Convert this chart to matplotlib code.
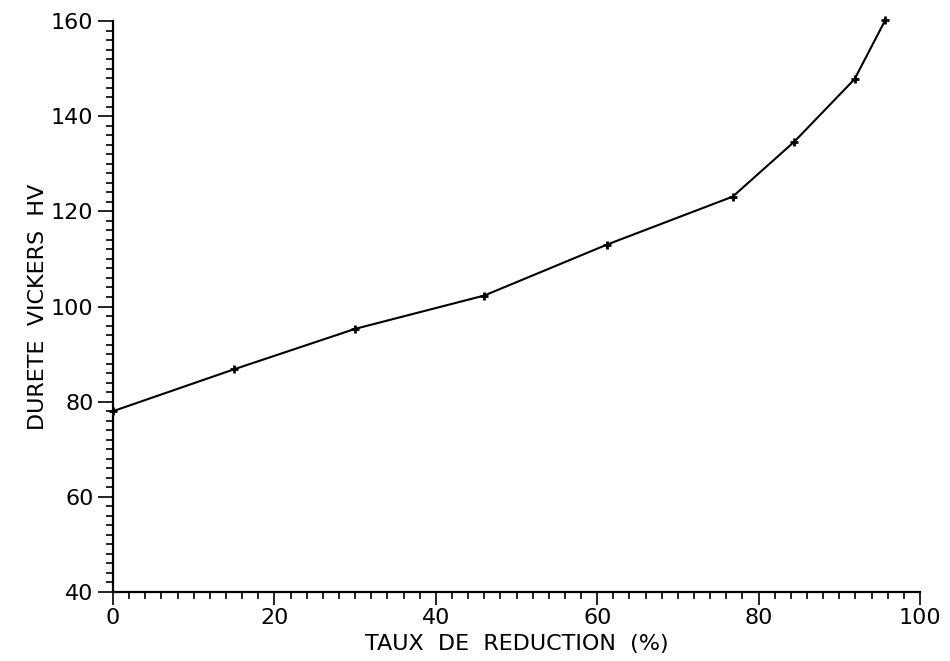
import matplotlib
matplotlib.use("Agg")
import matplotlib.pyplot as plt
from matplotlib.ticker import MultipleLocator

# Data
reduction = [0, 15, 30, 46, 61.2, 76.8, 84.4, 91.9, 95.7]
hardness = [78.0, 86.8, 95.3, 102.3, 113.0, 123.1, 134.6, 147.8, 160.2]

x_ticks = [0, 20, 40, 60, 80, 100]
y_ticks = [40, 60, 80, 100, 120, 140, 160]

plt.rcParams['font.family'] = ['DejaVu Sans']

fig = plt.figure(figsize=(9.5, 6.61), dpi=100)
ax = fig.add_axes([113/950, 1 - 592/661, (920 - 113)/950, (592 - 21)/661])

ax.plot(reduction, hardness, color='black', lw=1.5, marker='+', ms=6, mew=2,
        clip_on=False)

ax.set_xlim(0, 100)
ax.set_ylim(40, 160)
ax.set_xticks(x_ticks)
ax.set_yticks(y_ticks)
ax.xaxis.set_minor_locator(MultipleLocator(2))
ax.yaxis.set_minor_locator(MultipleLocator(2))

for s in ['top', 'right']:
    ax.spines[s].set_visible(False)
for s in ['left', 'bottom']:
    ax.spines[s].set_linewidth(1.6)

ax.tick_params(axis='x', which='major', direction='out', length=9.5, width=1.2, pad=2, labelsize=16)
ax.tick_params(axis='x', which='minor', direction='out', length=5, width=1.2)
ax.tick_params(axis='y', which='major', direction='out', length=11, width=1.2, pad=3, labelsize=16)
ax.tick_params(axis='y', which='minor', direction='out', length=5, width=1.2)

ax.set_xlabel('TAUX  DE  REDUCTION  (%)', fontsize=16, labelpad=4)
ax.set_ylabel('DURETE  VICKERS  HV', fontsize=16, labelpad=2)

fig.savefig('out.png', dpi=100, facecolor='white')
